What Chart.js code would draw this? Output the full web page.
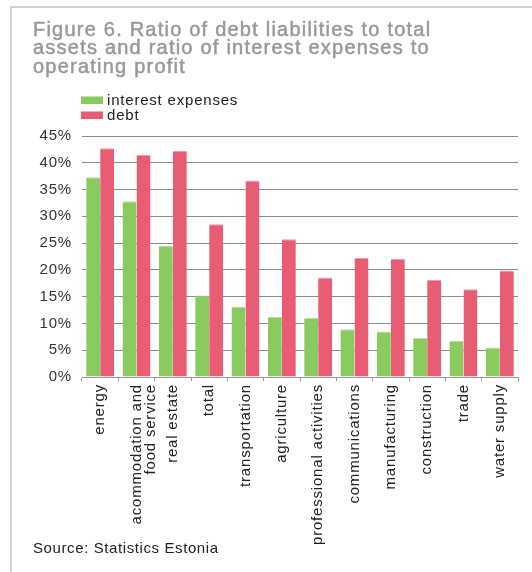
<!DOCTYPE html>
<html>
  <head>
    <title>Debt and interest ratios by sector</title>
    <script src="https://cdn.jsdelivr.net/npm/chart.js@4/dist/chart.umd.min.js"></script>
    <style>
      html, body {
        margin: 0;
        padding: 0;
        background: #fff;
      }
      #wrap {
        width: 532px;
        height: 572px;
      }
    </style>
  </head>

  <body>
    <div id="wrap">
      <canvas id="canvas" width="532" height="572"></canvas>
    </div>
    <script>
      const sectors = [
        'energy',
        ['acommodation and', 'food service'],
        'real estate',
        'total',
        'transportation',
        'agriculture',
        'professional activities',
        'communications',
        'manufacturing',
        'construction',
        'trade',
        'water supply',
      ];
      // shares in percent
      const interestExpenses = [37.3, 32.8, 24.5, 15.2, 13.1, 11.2, 11.0, 8.9, 8.5, 7.3, 6.7, 5.5];
      const debt = [42.7, 41.5, 42.2, 28.5, 36.7, 25.7, 18.6, 22.2, 22.1, 18.1, 16.4, 19.9];

      const titleLines = [
        'Figure 6. Ratio of debt liabilities to total',
        'assets and ratio of interest expenses to',
        'operating profit',
      ];
      const sourceNote = 'Source: Statistics Estonia';

      const FONT = '"Liberation Sans", Arial, Helvetica, sans-serif';
      const GREEN = '#8acb60';
      const RED = '#e85d73';
      const SPACING = '0.8px';

      // frame, heading, legend and source line around the plot
      const decorations = {
        id: 'decorations',
        beforeDraw(chart) {
          // the report typeface runs wider than Liberation Sans
          chart.ctx.letterSpacing = SPACING;
        },
        afterDraw(chart) {
          const ctx = chart.ctx;
          ctx.save();

          ctx.strokeStyle = '#c4c4c4';
          ctx.lineWidth = 1.5;
          ctx.beginPath();
          ctx.moveTo(11, 572);
          ctx.lineTo(11, 7);
          ctx.lineTo(532, 7);
          ctx.stroke();

          // heading: spread the first line to the printed width
          ctx.font = '20px ' + FONT;
          ctx.letterSpacing = '0px';
          const w = ctx.measureText(titleLines[0]).width;
          const extra = Math.max(0, (397 - w) / (titleLines[0].length - 1));
          ctx.letterSpacing = extra.toFixed(2) + 'px';
          ctx.fillStyle = '#999';
          ctx.strokeStyle = '#999';
          ctx.lineWidth = 0.5;
          ctx.textBaseline = 'alphabetic';
          titleLines.forEach((line, i) => {
            const y = 36 + i * 18.3;
            ctx.fillText(line, 33, y);
            ctx.strokeText(line, 33, y);
          });

          ctx.letterSpacing = SPACING;
          ctx.font = '15px ' + FONT;
          chart.data.datasets.forEach((ds, i) => {
            const y = 100 + i * 15;
            ctx.fillStyle = ds.backgroundColor;
            ctx.fillRect(81, y - 3.5, 22, 7.5);
            ctx.fillStyle = '#222';
            ctx.textBaseline = 'middle';
            ctx.fillText(ds.label, 107, y + 0.5);
          });

          ctx.textBaseline = 'alphabetic';
          ctx.fillStyle = '#222';
          ctx.letterSpacing = '0.6px';
          ctx.fillText(sourceNote, 33, 553);
          ctx.restore();
        },
      };

      window.onload = () => {
        const ctx = document.getElementById('canvas').getContext('2d');
        window.myBar = new Chart(ctx, {
          type: 'bar',
          data: {
            labels: sectors,
            datasets: [
              {
                label: 'interest expenses',
                data: interestExpenses,
                backgroundColor: GREEN,
                borderColor: '#b4e09a',
                borderWidth: { top: 1, left: 0, right: 0, bottom: 0 },
              },
              {
                label: 'debt',
                data: debt,
                backgroundColor: RED,
                borderColor: '#f49aa8',
                borderWidth: { top: 1, left: 0, right: 0, bottom: 0 },
              },
            ],
          },
          options: {
            responsive: false,
            animation: false,
            devicePixelRatio: 1,
            layout: {
              padding: { top: 136, left: 0, right: 14, bottom: 0 },
            },
            plugins: {
              legend: { display: false },
              title: { display: false },
              tooltip: { enabled: false },
            },
            datasets: {
              bar: {
                barPercentage: 1,
                categoryPercentage: 0.77,
              },
            },
            scales: {
              x: {
                afterFit: (scale) => {
                  scale.height = 195;
                },
                grid: {
                  display: true,
                  offset: true,
                  drawOnChartArea: false,
                  drawTicks: true,
                  tickLength: 4,
                  color: '#999',
                },
                border: { display: true, color: '#999', width: 1 },
                ticks: {
                  autoSkip: false,
                  minRotation: 90,
                  maxRotation: 90,
                  padding: 3,
                  color: '#222',
                  font: { family: FONT, size: 15, lineHeight: 0.98 },
                },
              },
              y: {
                min: 0,
                max: 45,
                afterFit: (scale) => {
                  scale.width = 82;
                },
                grid: {
                  color: '#8c8c8c',
                  lineWidth: 1,
                  drawTicks: false,
                },
                border: { display: false },
                ticks: {
                  stepSize: 5,
                  padding: 10,
                  color: '#333',
                  font: { family: FONT, size: 15 },
                  callback: (v) => v + '%',
                },
              },
            },
          },
          plugins: [decorations],
        });
      };
    </script>
  </body>
</html>
